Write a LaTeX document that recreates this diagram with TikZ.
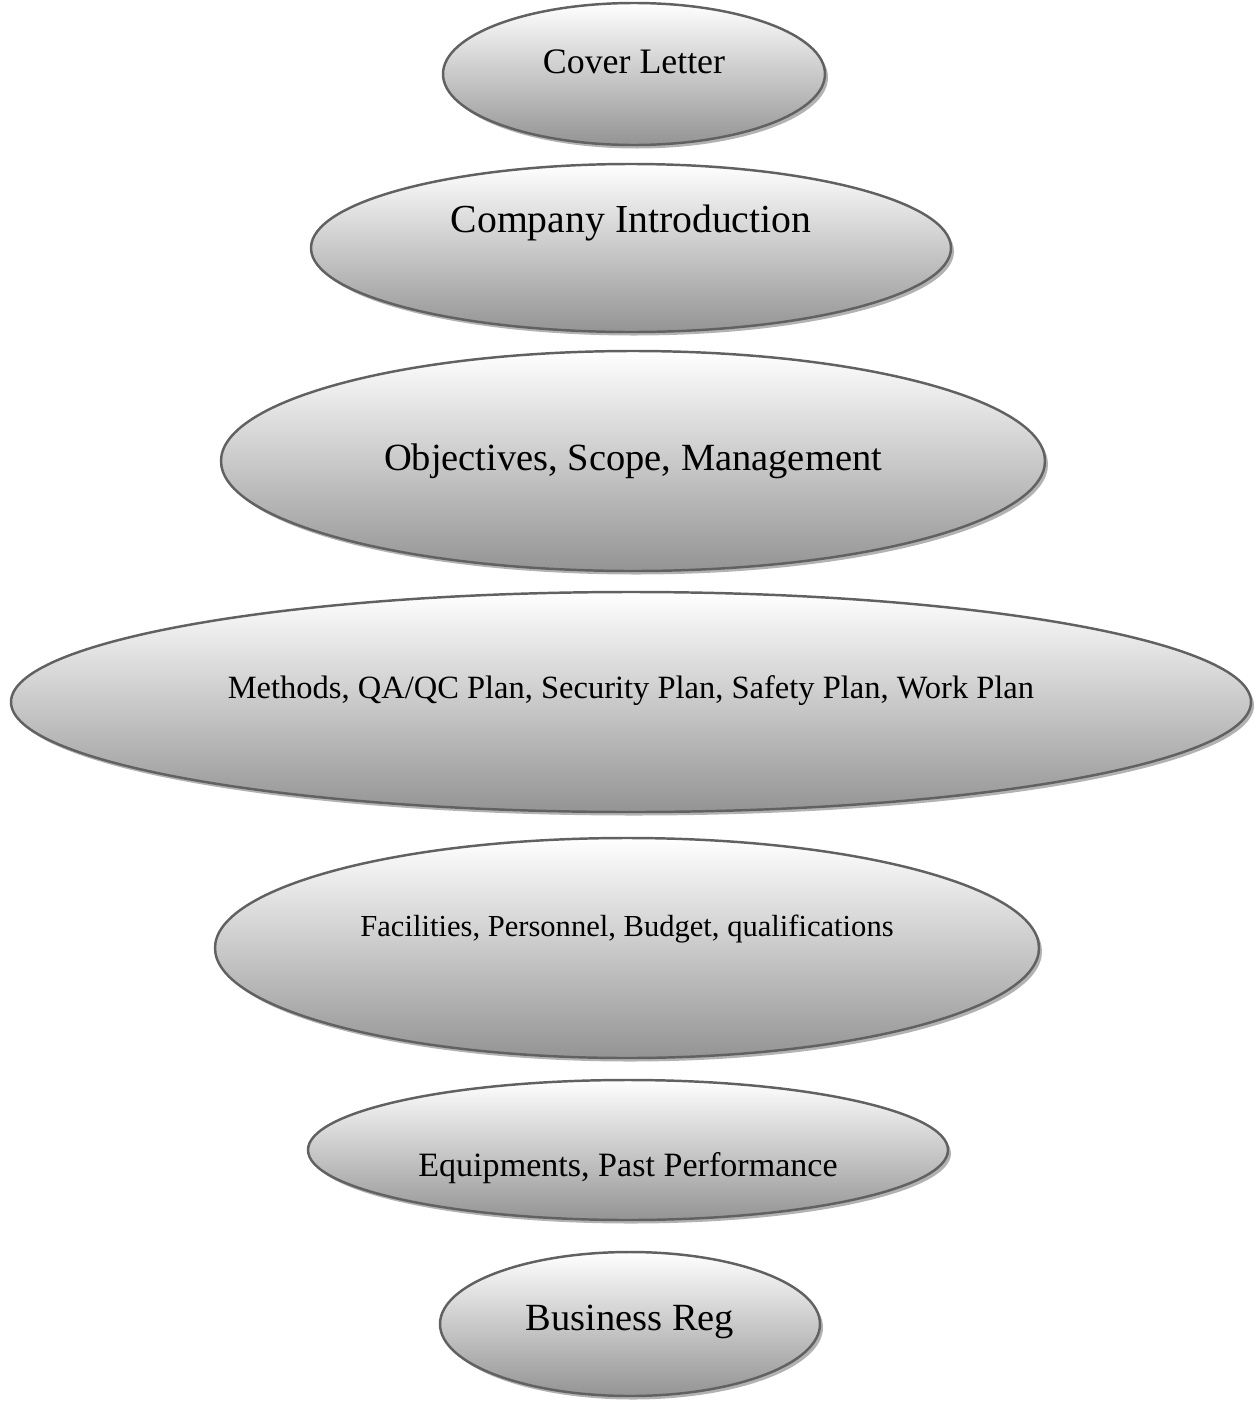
\documentclass[tikz,border=0pt]{standalone}
\usepackage{fontspec}
\setmainfont{Liberation Serif}
\usetikzlibrary{shapes.geometric,shadows}

\tikzset{
  bubble/.style={ellipse, draw=black!62, line width=1.4pt, inner sep=0pt,
    top color=white, bottom color=black!42,
    drop shadow={fill=black!30, opacity=1, shadow xshift=0.06cm, shadow yshift=-0.07cm}},
  caption/.style={inner sep=0pt, text=black}
}

\begin{document}
\begin{tikzpicture}[x=0.02cm, y=-0.02cm]

  % page frame
  \useasboundingbox (0,0) rectangle (1257,1403);

  % ellipses, top to bottom: centre x / centre y / half width / half height / text y / font size / text
  \foreach \cx/\cy/\rx/\ry/\ty/\fs/\txt [count=\i] in {
      634/74/191/71/62/20.4/{Cover Letter},
      631/248/320/84/223/22.6/{Company Introduction},
      633/461/412/110/461/21.9/{Objectives, Scope, Management},
      631/702/620/110/691/18.5/{Methods, QA/QC Plan, Security Plan, Safety Plan, Work Plan},
      627/948/412/110/929/17.4/{Facilities, Personnel, Budget, qualifications},
      628/1150/320/70/1168/19.4/{Equipments, Past Performance},
      630/1324/190/72/1322/21.9/{Business Reg}} {
    \node[bubble, minimum width={2*\rx*0.02cm}, minimum height={2*\ry*0.02cm}]
      (e\i) at (\cx,\cy) {};
    \node[caption, font=\fontsize{\fs}{\fs}\selectfont] (t\i) at (\cx,\ty) {\txt};
  }

\end{tikzpicture}
\end{document}
